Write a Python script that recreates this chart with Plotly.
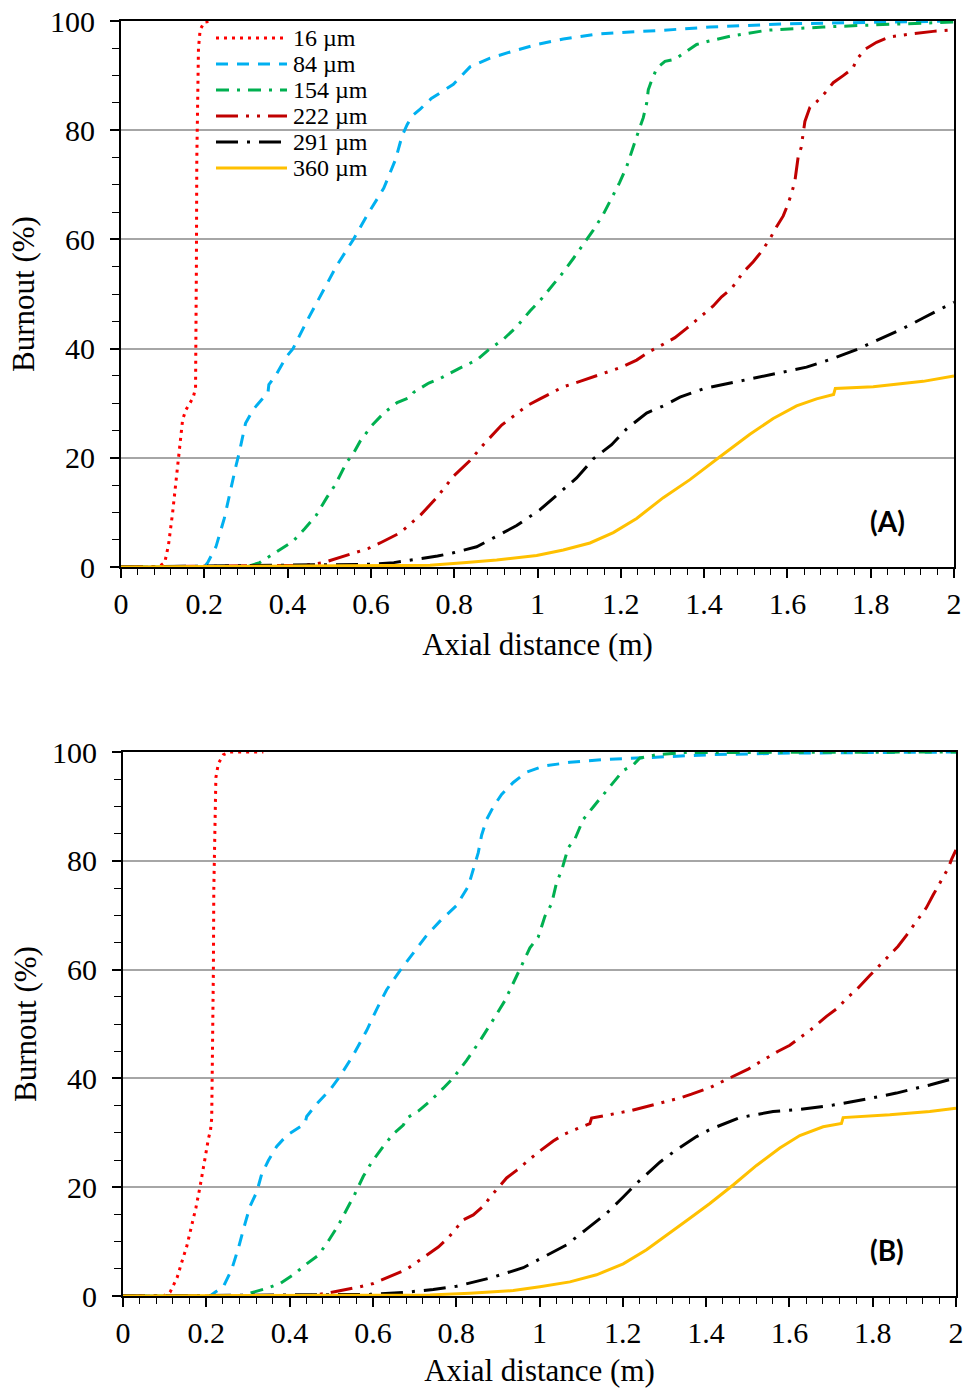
import plotly.graph_objects as go

# ---------------- data: burnout (%) vs axial distance (m) ----------------
sizes = ["16 µm", "84 µm", "154 µm", "222 µm", "291 µm", "360 µm"]

# Panel (A)
a16_x = [0, 0.09, 0.105, 0.114, 0.124, 0.132, 0.137, 0.142, 0.148, 0.156, 0.165, 0.173, 0.179, 0.180, 0.181, 0.182, 0.184, 0.186, 0.190, 0.200, 0.220]
a16_y = [0, 0, 0.8, 4, 10, 16, 19.8, 23, 27, 28.8, 30, 31, 32.7, 39.8, 55, 74.6, 87, 95, 98.4, 99.8, 100]

a84_x = [0, 0.2, 0.208, 0.228, 0.248, 0.264, 0.276, 0.284, 0.299, 0.317, 0.341, 0.353, 0.355, 0.373, 0.397, 0.413, 0.446, 0.478, 0.518, 0.558, 0.590, 0.631, 0.659, 0.675, 0.687, 0.699, 0.719, 0.745, 0.798, 0.838, 0.886, 0.942, 0.998, 1.062, 1.142, 1.222, 1.302, 1.414, 1.606, 2.0]
a84_y = [0, 0, 0.8, 3.7, 8.9, 14.7, 18.5, 21, 26.3, 28.8, 30.8, 32, 33.4, 35.3, 38.5, 40, 45, 49.5, 55.2, 60, 64.3, 69.4, 74.6, 79, 81, 82.6, 83.9, 85.8, 88.4, 91.6, 93.2, 94.5, 95.7, 96.7, 97.6, 98, 98.3, 98.9, 99.5, 100]

a154_x = [0, 0.3, 0.333, 0.373, 0.413, 0.441, 0.469, 0.494, 0.514, 0.542, 0.558, 0.574, 0.602, 0.631, 0.663, 0.695, 0.703, 0.739, 0.768, 0.810, 0.854, 0.883, 0.918, 0.950, 0.982, 1.006, 1.038, 1.062, 1.086, 1.110, 1.134, 1.158, 1.178, 1.197, 1.214, 1.226, 1.242, 1.254, 1.262, 1.266, 1.272, 1.286, 1.306, 1.330, 1.358, 1.382, 1.410, 1.462, 1.55, 1.686, 1.846, 2.0]
a154_y = [0, 0, 0.8, 2.8, 4.7, 7, 9.5, 12.7, 15, 19.2, 20.8, 23, 25.9, 28.2, 30.1, 31.1, 32, 33.7, 34.6, 36.3, 37.9, 39.8, 41.7, 44, 46.9, 48.8, 51.7, 54, 56.5, 59.1, 61.7, 64.6, 67.5, 70.4, 73.3, 76.2, 79.7, 82.3, 84.9, 87.4, 88.7, 91.3, 92.6, 93, 94.5, 95.7, 96.3, 97.2, 98.3, 98.9, 99.4, 99.8]

a222_x = [0, 0.44, 0.486, 0.542, 0.594, 0.622, 0.671, 0.719, 0.758, 0.798, 0.838, 0.870, 0.914, 0.942, 0.974, 1.006, 1.038, 1.062, 1.102, 1.142, 1.174, 1.202, 1.238, 1.270, 1.302, 1.330, 1.358, 1.398, 1.422, 1.442, 1.466, 1.494, 1.518, 1.538, 1.558, 1.574, 1.590, 1.600, 1.610, 1.618, 1.622, 1.626, 1.633, 1.638, 1.642, 1.654, 1.670, 1.690, 1.710, 1.734, 1.757, 1.766, 1.786, 1.814, 1.846, 1.894, 1.950, 2.0]
a222_y = [0, 0.3, 0.8, 2.1, 3.4, 4.4, 6.3, 9.5, 12.7, 16.6, 19.5, 22.4, 26, 27.6, 29.5, 30.8, 32.1, 33, 34, 35, 35.8, 36.6, 37.9, 39.5, 40.8, 42, 43.7, 46.2, 47.8, 49.5, 51, 54, 55.9, 57.8, 60.1, 62.3, 64.3, 66.2, 68.4, 70.7, 73.3, 75.2, 76.8, 79.4, 81.6, 84.2, 85.2, 86.8, 88.7, 90, 91.3, 92.9, 94.8, 96.1, 97.1, 97.6, 98.1, 98.4]

a291_x = [0, 0.598, 0.655, 0.719, 0.760, 0.798, 0.854, 0.906, 0.950, 1.006, 1.046, 1.094, 1.134, 1.178, 1.214, 1.262, 1.302, 1.342, 1.40, 1.446, 1.526, 1.590, 1.646, 1.702, 1.766, 1.822, 1.878, 1.926, 2.0]
a291_y = [0, 0.5, 0.8, 1.5, 2.0, 2.6, 3.7, 5.8, 7.6, 10.5, 13.1, 16.3, 19.8, 22.4, 25.3, 28.2, 29.5, 31.1, 32.7, 33.4, 34.6, 35.7, 36.6, 38, 39.8, 41.7, 43.7, 45.6, 48.5]

a360_x = [0, 0.742, 0.822, 0.902, 0.998, 1.062, 1.126, 1.182, 1.238, 1.302, 1.366, 1.414, 1.438, 1.510, 1.566, 1.622, 1.670, 1.711, 1.715, 1.806, 1.926, 2.0]
a360_y = [0, 0.3, 0.8, 1.3, 2.1, 3.1, 4.4, 6.3, 8.9, 12.7, 16, 18.9, 20.2, 24.3, 27.2, 29.5, 30.8, 31.6, 32.7, 33, 34, 35]

# Panel (B)
b16_x = [0, 0.097, 0.113, 0.130, 0.141, 0.153, 0.165, 0.175, 0.185, 0.193, 0.199, 0.205, 0.210, 0.213, 0.215, 0.217, 0.218, 0.221, 0.223, 0.229, 0.241, 0.257, 0.337]
b16_y = [0, 0, 0.7, 3.4, 6.2, 9.1, 13, 16.2, 20.1, 23.3, 26.2, 28.9, 30.4, 32.7, 42.4, 59.8, 74.7, 87.6, 95.3, 97.9, 99.5, 100, 100]

b84_x = [0, 0.209, 0.221, 0.241, 0.261, 0.277, 0.293, 0.305, 0.321, 0.333, 0.349, 0.369, 0.393, 0.417, 0.437, 0.441, 0.465, 0.497, 0.521, 0.553, 0.585, 0.609, 0.633, 0.665, 0.697, 0.729, 0.761, 0.801, 0.829, 0.841, 0.853, 0.861, 0.873, 0.889, 0.909, 0.937, 0.969, 1.009, 1.073, 1.153, 1.233, 1.297, 1.409, 1.6, 2.0]
b84_y = [0, 0, 0.7, 1.7, 4.9, 8.8, 13.3, 16.5, 19.1, 22.4, 24.9, 27.5, 29.5, 30.7, 31.7, 33, 35.3, 37.9, 40.4, 44.3, 48.8, 52.7, 56.3, 59.8, 63, 66.3, 68.9, 71.8, 75.3, 78.2, 81.5, 84.7, 87.6, 89.9, 92.2, 94.4, 96.3, 97.4, 98.1, 98.6, 98.9, 99.2, 99.5, 99.8, 100]

b154_x = [0, 0.281, 0.313, 0.345, 0.377, 0.409, 0.441, 0.469, 0.493, 0.517, 0.537, 0.557, 0.577, 0.597, 0.625, 0.649, 0.673, 0.681, 0.709, 0.737, 0.769, 0.793, 0.825, 0.857, 0.889, 0.917, 0.953, 0.977, 0.997, 1.013, 1.029, 1.041, 1.053, 1.061, 1.069, 1.085, 1.105, 1.129, 1.153, 1.181, 1.201, 1.225, 1.241, 1.281, 1.345, 2.0]
b154_y = [0, 0, 0.7, 1.4, 2.3, 3.9, 5.9, 7.5, 10.1, 13, 15.9, 18.8, 22, 24.6, 27.5, 29.8, 31.4, 32.7, 34, 35.8, 38.2, 40.1, 43.3, 46.9, 50.8, 54.3, 60.1, 64, 66, 69.8, 72.1, 76, 78.2, 80.2, 82.4, 84, 87.6, 89.9, 92.1, 94.7, 96.6, 97.6, 98.9, 99.5, 99.9, 100]

b222_x = [0, 0.441, 0.489, 0.537, 0.569, 0.601, 0.633, 0.681, 0.729, 0.757, 0.781, 0.817, 0.841, 0.865, 0.885, 0.921, 0.945, 0.969, 0.993, 1.033, 1.061, 1.089, 1.121, 1.125, 1.161, 1.193, 1.221, 1.257, 1.297, 1.337, 1.365, 1.409, 1.441, 1.473, 1.501, 1.529, 1.573, 1.601, 1.625, 1.649, 1.689, 1.717, 1.737, 1.761, 1.793, 1.817, 1.841, 1.861, 1.881, 1.909, 1.929, 1.945, 1.961, 1.981, 1.989, 2.0]
b222_y = [0, 0, 0.5, 1.2, 1.7, 2.3, 3.3, 4.9, 7.5, 9.0, 10.7, 14, 14.9, 16.5, 18.5, 21.7, 23.1, 24.6, 26.2, 28.5, 29.8, 30.7, 31.7, 32.7, 33.3, 33.7, 34.1, 34.8, 35.6, 36.4, 37.1, 38.3, 39.5, 40.6, 41.7, 43, 45, 46.1, 47.5, 48.8, 51.4, 53, 54.7, 56.3, 58.9, 60.8, 62.7, 64.3, 66.3, 69.2, 71.4, 73.7, 76, 78.6, 80.2, 82]

b291_x = [0, 0.593, 0.681, 0.745, 0.801, 0.881, 0.961, 1.017, 1.065, 1.113, 1.161, 1.201, 1.233, 1.289, 1.329, 1.377, 1.409, 1.481, 1.561, 1.625, 1.705, 1.785, 1.857, 1.937, 2.0]
b291_y = [0, 0.3, 0.7, 1.2, 1.8, 3.3, 5.2, 7.5, 9.4, 12.3, 15.2, 18.2, 20.7, 24.6, 26.9, 29.3, 30.6, 32.8, 33.9, 34.3, 35.1, 36.2, 37.3, 38.8, 40.1]

b360_x = [0, 0.737, 0.833, 0.937, 1.001, 1.073, 1.137, 1.201, 1.257, 1.313, 1.361, 1.409, 1.465, 1.521, 1.577, 1.625, 1.681, 1.725, 1.729, 1.841, 1.937, 2.0]
b360_y = [0, 0.2, 0.5, 1.0, 1.7, 2.6, 3.9, 5.9, 8.5, 11.7, 14.3, 17, 20.4, 24, 27.2, 29.5, 31.1, 31.7, 32.8, 33.3, 33.9, 34.5]

panel_a = [(a16_x, a16_y), (a84_x, a84_y), (a154_x, a154_y), (a222_x, a222_y), (a291_x, a291_y), (a360_x, a360_y)]
panel_b = [(b16_x, b16_y), (b84_x, b84_y), (b154_x, b154_y), (b222_x, b222_y), (b291_x, b291_y), (b360_x, b360_y)]

# ---------------- styling ----------------
colors = ["#FF0000", "#00B0F0", "#00B050", "#C00000", "#000000", "#FFC000"]
dashes = ["3px,5px", "12px,9px", "13px,8px,3px,8px", "22px,8px,3px,8px,3px,8px", "22px,9px,3px,9px", "solid"]
widths = [3, 3, 3, 3, 3, 3]

SERIF = "Liberation Serif, Times New Roman, serif"
W, H = 969, 1388

fig = go.Figure()

for axis_ids, series in ((("x", "y"), panel_a), (("x2", "y2"), panel_b)):
    for name, (xs, ys), c, d, w in zip(sizes, series, colors, dashes, widths):
        fig.add_trace(go.Scatter(
            x=xs, y=ys, name=name, mode="lines",
            line=dict(color=c, dash=d, width=w),
            xaxis=axis_ids[0], yaxis=axis_ids[1], showlegend=False,
        ))


def x_axis(domain, anchor):
    return dict(
        domain=domain, anchor=anchor, range=[0, 2], dtick=0.2, tick0=0,
        showline=True, linecolor="black", linewidth=2, mirror=True,
        ticks="outside", ticklen=9, tickwidth=1.5, tickcolor="black",
        minor=dict(dtick=0.04, tick0=0, ticks="outside", ticklen=6, tickwidth=1.2, tickcolor="black", showgrid=False),
        showgrid=False, zeroline=False, layer="below traces",
        tickfont=dict(family=SERIF, size=30, color="black"),
        title=dict(text="Axial distance (m)", font=dict(family=SERIF, size=31, color="black"), standoff=14),
    )


def y_axis(domain, anchor):
    return dict(
        domain=domain, anchor=anchor, range=[0, 100], dtick=20, tick0=0,
        showline=True, linecolor="black", linewidth=2, mirror=True,
        ticks="outside", ticklen=9, tickwidth=1.5, tickcolor="black",
        minor=dict(dtick=5, tick0=0, ticks="outside", ticklen=7, tickwidth=1.2, tickcolor="black", showgrid=False),
        showgrid=True, gridcolor="#A6A6A6", gridwidth=1.5, zeroline=False, layer="below traces",
        ticklabelstandoff=9,
        tickfont=dict(family=SERIF, size=30, color="black"),
        title=dict(text="Burnout (%)", font=dict(family=SERIF, size=31, color="black"), standoff=6),
    )


def inner_ticks(base, overlay, anchor, dtick, rng):
    # short tick marks on the inner side of the major ticks
    return dict(
        matches=base, overlaying=overlay, anchor=anchor, range=rng, dtick=dtick, tick0=0,
        ticks="inside", ticklen=8, tickwidth=1.5, tickcolor="black",
        showticklabels=False, showgrid=False, showline=False, zeroline=False,
    )


ya_dom = [1 - 567 / H, 1 - 21 / H]
yb_dom = [1 - 1296 / H, 1 - 752 / H]

fig.update_layout(
    width=W, height=H,
    margin=dict(l=0, r=0, t=0, b=0, autoexpand=False),
    paper_bgcolor="white", plot_bgcolor="white",
    xaxis=x_axis([121 / W, 954 / W], "y"),
    yaxis=y_axis(ya_dom, "x"),
    xaxis2=x_axis([123 / W, 956 / W], "y2"),
    yaxis2=y_axis(yb_dom, "x2"),
    xaxis3=inner_ticks("x", "x", "y", 0.2, [0, 2]),
    xaxis4=inner_ticks("x2", "x2", "y2", 0.2, [0, 2]),
    showlegend=False,
)

# panel tags
for tag, ypx in (("(A)", 521), ("(B)", 1250)):
    fig.add_annotation(
        text="<b>%s</b>" % tag, x=887 / W, y=1 - ypx / H, xref="paper", yref="paper",
        xanchor="center", yanchor="middle", showarrow=False,
        font=dict(family="Lato, Open Sans, sans-serif", size=28, color="black"),
    )

# key for the particle sizes (panel A, upper left)
key_rows = [38, 64, 90, 116, 142, 168]
for name, c, d, ypx in zip(sizes, colors, dashes, key_rows):
    yk = 1 - ypx / H
    fig.add_shape(type="line", xref="paper", yref="paper",
                  x0=216 / W, x1=287 / W, y0=yk, y1=yk,
                  line=dict(color=c, dash=d, width=3))
    fig.add_annotation(text=name, x=292 / W, y=yk, xref="paper", yref="paper",
                       xanchor="left", yanchor="middle", showarrow=False, borderpad=0,
                       font=dict(family=SERIF, size=24, color="black"))

fig.write_html("out.html")
